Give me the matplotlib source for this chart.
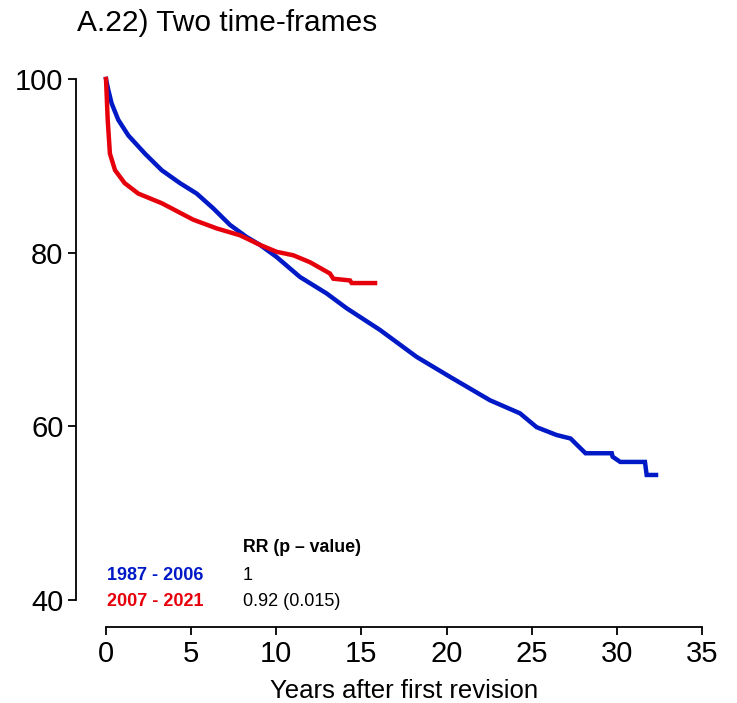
"""Revision-free survival after a first revision, split by two calendar periods."""

import matplotlib
matplotlib.use("Agg")
import matplotlib.pyplot as plt

plt.rcParams['font.family'] = ['Liberation Sans', 'DejaVu Sans']

# survival (%) against years after first revision
years_early = [0, 0.14, 0.33, 0.72, 1.31, 2.29, 3.27, 4.35, 5.33, 6.30, 7.28, 8.26, 9.04,
               10.02, 11.39, 12.96, 14.13, 16.09, 18.24, 20.2, 22.55, 24.31, 25.29,
               26.46, 27.28, 28.16, 29.7, 29.75, 30.2, 31.65, 31.75, 32.3]
surv_early = [100, 98.7, 97.2, 95.3, 93.5, 91.4, 89.5, 88.0, 86.8, 85.1, 83.2, 81.8, 80.9,
              79.5, 77.2, 75.3, 73.6, 71.1, 68.0, 65.7, 63.0, 61.5, 59.9,
              59.0, 58.6, 56.9, 56.9, 56.5, 55.9, 55.9, 54.4, 54.4]

years_late = [0, 0.1, 0.23, 0.53, 1.1, 1.9, 3.27, 5.12, 6.49, 7.87, 9.04, 10.02,
              11.0, 11.98, 13.15, 13.35, 14.33, 14.43, 15.8]
surv_late = [100, 95.3, 91.4, 89.5, 88.0, 86.8, 85.7, 83.8, 82.8, 82.0, 80.9, 80.1,
             79.7, 78.9, 77.6, 77.0, 76.8, 76.5, 76.5]

periods = ["1987 - 2006", "2007 - 2021"]
rr_labels = ["1", "0.92 (0.015)"]
colors = ["#0019C6", "#E6000B"]


def main():
    W, H = 737, 703
    fig = plt.figure(figsize=(W / 100, H / 100), dpi=100)
    ax = fig.add_axes([106 / W, 1 - 600 / H, (702 - 106) / W, (600 - 79) / H])

    ax.plot(years_early, surv_early, color=colors[0], lw=3.2, clip_on=False,
            solid_joinstyle='miter')
    ax.plot(years_late, surv_late, color=colors[1], lw=3.2, clip_on=False,
            solid_joinstyle='miter')

    ax.set_xlim(0, 35)
    ax.set_ylim(40, 100)
    ax.set_xticks(range(0, 36, 5))
    ax.set_yticks([40, 60, 80, 100])

    # R-style detached axes
    for side in ['top', 'right']:
        ax.spines[side].set_visible(False)
    ax.spines['left'].set_position(('outward', 30 * 0.72))
    ax.spines['bottom'].set_position(('outward', 27 * 0.72))
    for side in ['left', 'bottom']:
        ax.spines[side].set_linewidth(1.3)
    ax.tick_params(length=5.5, width=1.3, labelsize=21, pad=3.5)

    ax.set_xlabel("Years after first revision", fontsize=18.5, labelpad=8)
    fig.text(77 / W, 1 - 23 / H, "A.22) Two time-frames", fontsize=21.5,
             va='center', ha='left')

    # hazard ratio table
    fig.text(243 / W, 1 - 548 / H, "RR (p \u2013 value)", fontsize=12.8,
             fontweight='bold', va='center')
    for i, (name, rr) in enumerate(zip(periods, rr_labels)):
        y = 1 - (576 + 25 * i) / H
        fig.text(107 / W, y, name, color=colors[i], fontsize=13,
                 fontweight='bold', va='center')
        fig.text(243 / W, y, rr, fontsize=13, va='center')

    fig.savefig("out.png", dpi=100)


if __name__ == "__main__":
    main()
